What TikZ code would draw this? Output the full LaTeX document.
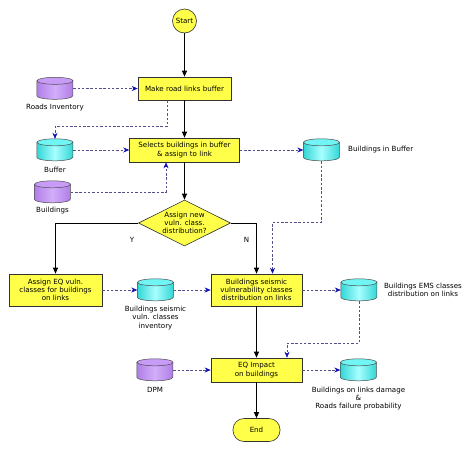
\documentclass[tikz,border=0pt]{standalone}
\usepackage{fontspec}
\setmainfont{DejaVu Sans}
\usetikzlibrary{shapes.geometric,arrows.meta}
\definecolor{boxyel}{HTML}{FFFF4A}
\definecolor{purpside}{HTML}{B07EE6}
\definecolor{purpmid}{HTML}{D2AEFA}
\definecolor{purpend}{HTML}{C89CF6}
\definecolor{cyanside}{HTML}{33D6D6}
\definecolor{cyanmid}{HTML}{A8FFFF}
\definecolor{cyanend}{HTML}{70F4F4}
\definecolor{dataline}{HTML}{50508C}
\definecolor{datahead}{HTML}{1010B0}
\newcommand\drawcyl[4]{% node name, side colour, middle colour, end colour
  \path[draw=black!70, line width=0.5pt, left color=#2, right color=#2, middle color=#3]
    (#1.north west) ++(0,3.5) -- ++(0,15)
    arc[start angle=180, end angle=360, x radius=18pt, y radius=3.5pt] -- ++(0,-15) -- cycle;
  \path[draw=black!70, line width=0.5pt, fill=#4]
    (#1.north) ++(0,3.5) ellipse[x radius=18pt, y radius=3.5pt];
}
\begin{document}
\begin{tikzpicture}[x=1pt,y=-1pt,
  font=\fontsize{7.1}{8.3}\selectfont,
  proc/.style={draw=black!80, line width=0.6pt, fill=boxyel, align=center, inner sep=1pt},
  startc/.style={circle, draw=black!80, line width=0.6pt, fill=boxyel, minimum size=24pt, inner sep=0pt},
  endn/.style={rectangle, rounded corners=11pt, draw=black!80, line width=0.6pt, fill=boxyel, minimum width=47pt, minimum height=23pt, inner sep=0pt},
  decision/.style={diamond, draw=black!80, line width=0.6pt, fill=boxyel, aspect=2, inner sep=0pt, minimum width=92pt, minimum height=46pt, align=center},
  cylnode/.style={rectangle, draw=none, minimum width=36pt, minimum height=22pt, inner sep=0pt},
  lbl/.style={align=center, inner sep=0pt},
  flow/.style={draw=black, line width=1pt, -{Triangle[length=6pt,width=5pt]}},
  data/.style={draw=dataline, line width=0.6pt, dash pattern=on 2.5pt off 1.8pt, -{Stealth[length=6pt,width=5pt,color=datahead]}}
]
\fill[white] (0,0) rectangle (474,451);
\useasboundingbox (0,0) rectangle (474,451);

% main column
\node[startc] (start) at (184.5,21) {Start};
\node[proc, minimum width=93pt, minimum height=23pt] (make) at (184.5,88.5) {Make road links buffer};
\node[proc, minimum width=110pt, minimum height=24pt] (sel) at (184.5,150) {Selects buildings in buffer\\\& assign to link};
\node[decision] (dec) at (184.5,223) {Assign new\\vuln. class.\\distribution?};
\node[proc, minimum width=93pt, minimum height=32pt] (aeq) at (55.5,290) {Assign EQ vuln.\\classes for buildings\\on links};
\node[proc, minimum width=91pt, minimum height=32pt] (bsv) at (256.5,290) {Buildings seismic\\vulnerability classes\\distribution on links};
\node[proc, minimum width=91pt, minimum height=24pt] (eqi) at (256.5,370) {EQ Impact\\on buildings};
\node[endn] (end) at (256.5,430) {End};

% data stores
\node[cylnode] (roads) at (55,88.5) {};
\node[lbl] (roadsl) at (55,108) {Roads Inventory};
\node[cylnode] (buffer) at (55,150) {};
\node[lbl] (bufferl) at (55,170) {Buffer};
\node[cylnode] (bldg) at (52.5,192) {};
\node[lbl] (bldgl) at (52.5,211) {Buildings};
\node[cylnode] (bib) at (321.5,150) {};
\node[lbl, anchor=west] (bibl) at (348,150) {Buildings in Buffer};
\node[cylnode] (bsvi) at (155.5,290) {};
\node[lbl] (bsvil) at (155.5,318) {Buildings seismic\\vuln. classes\\inventory};
\node[cylnode] (ems) at (359,290) {};
\node[lbl] (emsl) at (423,290) {Buildings EMS classes\\distribution on links};
\node[cylnode] (dpm) at (155,370) {};
\node[lbl] (dpml) at (155,390) {DPM};
\node[cylnode] (dmg) at (358.5,370) {};
\node[lbl] (dmgl) at (358.5,398.5) {Buildings on links damage\\\&\\Roads failure probability};

\drawcyl{roads}{purpside}{purpmid}{purpend}
\drawcyl{bldg}{purpside}{purpmid}{purpend}
\drawcyl{dpm}{purpside}{purpmid}{purpend}
\drawcyl{buffer}{cyanside}{cyanmid}{cyanend}
\drawcyl{bib}{cyanside}{cyanmid}{cyanend}
\drawcyl{bsvi}{cyanside}{cyanmid}{cyanend}
\drawcyl{ems}{cyanside}{cyanmid}{cyanend}
\drawcyl{dmg}{cyanside}{cyanmid}{cyanend}

% decision labels
\node[lbl] (ylab) at (132,240) {Y};
\node[lbl] (nlab) at (246.5,240) {N};

% control flow
\draw[flow] (start) -- (make);
\draw[flow] (make) -- (sel);
\draw[flow] (sel) -- (dec);
\draw[flow] (dec.west) -| (aeq.north);
\draw[flow] (dec.east) -| (bsv.north);
\draw[flow] (bsv) -- (eqi);
\draw[flow] (eqi) -- (end);

% data flow
\draw[data] (roads.east) -- (roads.east -| make.west);
\draw[data] ([xshift=-17.5pt]make.south) -- ++(0,26) -| (buffer.north);
\draw[data] (buffer.east) -- (buffer.east -| sel.west);
\draw[data] (bldg.east) -| ([xshift=-18.5pt]sel.south);
\draw[data] (sel.east) -- (sel.east -| bib.west);
\draw[data] (bib.south) -- ++(0,61) -| ([xshift=16pt]bsv.north);
\draw[data] (aeq.east) -- (aeq.east -| bsvi.west);
\draw[data] (bsvi.east) -- (bsvi.east -| bsv.west);
\draw[data] (bsv.east) -- (bsv.east -| ems.west);
\draw[data] (ems.south) -- ++(0,42) -| ([xshift=30.5pt]eqi.north);
\draw[data] (dpm.east) -- (dpm.east -| eqi.west);
\draw[data] (eqi.east) -- (eqi.east -| dmg.west);
\end{tikzpicture}
\end{document}
